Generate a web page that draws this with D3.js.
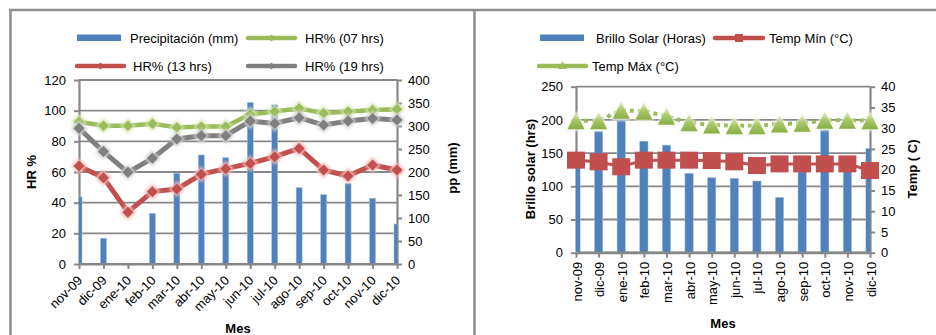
<!DOCTYPE html>
<html>
<head>
<meta charset="utf-8">
<script src="https://cdn.jsdelivr.net/npm/d3@7"></script>
<style>
  html, body { margin: 0; padding: 0; background: #fff; }
  svg { display: block; font-family: "Liberation Sans", Arial, sans-serif; }
</style>
</head>
<body>
<svg id="chart" width="936" height="335"></svg>
<script>
// Months shared by both panels
const months = ["nov-09","dic-09","ene-10","feb-10","mar-10","abr-10","may-10","jun-10","jul-10","ago-10","sep-10","oct-10","nov-10","dic-10"];

// Left panel: precipitation (mm, right axis) and relative humidity (%, left axis)
const precipitacion = [146, 56, 0, 110, 197, 237, 231, 351, 346, 166, 151, 175, 143, 87];
const hr07 = [92.8, 90.2, 90.2, 91.5, 89.1, 89.6, 89.6, 97.6, 99.4, 101.5, 98.3, 99.4, 100.4, 101];
const hr13 = [63.9, 56.3, 33.8, 47.2, 48.9, 58.5, 62.2, 65.6, 70.0, 75.4, 61.3, 57.4, 64.6, 61.3];
const hr19 = [88.5, 73.3, 59.8, 68.9, 81.5, 83.7, 83.7, 93.2, 91.7, 95.4, 90.6, 93.2, 94.9, 93.9];
const hrTicks = [0, 20, 40, 60, 80, 100, 120];
const ppTicks = [0, 50, 100, 150, 200, 250, 300, 350, 400];

// Right panel: sunshine hours (left axis) and temperatures (°C, right axis)
const brillo = [138, 183, 200, 168, 162, 119.5, 113, 112, 108, 83.4, 135, 185, 140, 157];
const tempMin = [22.3, 21.9, 20.7, 22.3, 22.3, 22.3, 22.2, 21.9, 21.0, 21.4, 21.4, 21.4, 21.4, 19.8];
const tempMax = [31.8, 31.8, 34.3, 34.1, 32.9, 31.3, 30.8, 30.6, 30.6, 31.0, 31.2, 31.9, 31.9, 31.8];
const brilloTicks = [0, 50, 100, 150, 200, 250];
const tempTicks = [0, 5, 10, 15, 20, 25, 30, 35, 40];

const C = {
  blue: "#4f81bd", green: "#9bbb59", red: "#c0504d", gray: "#7f7f7f",
  axis: "#878787", text: "#000"
};
const FONT = 13;

const svg = d3.select("#chart");
const defs = svg.append("defs");

// soft glow used on the markers
const fGlow = defs.append("filter").attr("id", "glow")
  .attr("x", "-50%").attr("y", "-50%").attr("width", "200%").attr("height", "200%");
fGlow.append("feGaussianBlur").attr("stdDeviation", 1.6);
const fSoft = defs.append("filter").attr("id", "soft")
  .attr("x", "-30%").attr("y", "-30%").attr("width", "160%").attr("height", "160%");
fSoft.append("feGaussianBlur").attr("stdDeviation", 0.6);

// gradient for the triangle markers
const tg = defs.append("linearGradient").attr("id", "triGrad")
  .attr("x1", 0).attr("y1", 0).attr("x2", 0).attr("y2", 1);
tg.append("stop").attr("offset", "0%").attr("stop-color", "#e9f3cf");
tg.append("stop").attr("offset", "45%").attr("stop-color", "#a9c86a");
tg.append("stop").attr("offset", "100%").attr("stop-color", "#8aae46");

const diamond = r => `M0,${-r}L${r},0L0,${r}L${-r},0Z`;
const triangle = (w, h) => `M0,${-h / 2}L${w / 2},${h / 2}L${-w / 2},${h / 2}Z`;

// ---------- outer frame ----------
const frame = svg.append("g").attr("stroke", "#8e8e8e").attr("stroke-width", 2.5).attr("fill", "none");
frame.append("line").attr("x1", 9).attr("x2", 936).attr("y1", 10).attr("y2", 10);
frame.append("line").attr("x1", 10.5).attr("x2", 10.5).attr("y1", 10).attr("y2", 335);
frame.append("line").attr("x1", 474.5).attr("x2", 474.5).attr("y1", 10).attr("y2", 335);

// ---------- helpers ----------
function drawAxes(g, x, yL, yR, ticksL, ticksR, plot) {
  // gridlines
  g.append("g").selectAll("line").data(ticksL).join("line")
    .attr("x1", plot.x0).attr("x2", plot.x1)
    .attr("y1", d => yL(d)).attr("y2", d => yL(d))
    .attr("stroke", C.axis).attr("stroke-width", 1.8);

  const style = sel => {
    sel.select(".domain").attr("stroke", C.axis).attr("stroke-width", 2.2);
    sel.selectAll(".tick line").attr("stroke", C.axis).attr("stroke-width", 2);
    sel.selectAll(".tick text").attr("font-size", FONT).attr("fill", C.text)
      .attr("font-family", "'Liberation Sans', Arial, sans-serif");
  };
  const aL = d3.axisLeft(yL).tickValues(ticksL).tickSize(5).tickSizeOuter(0).tickPadding(8);
  g.append("g").attr("transform", `translate(${plot.x0},0)`).call(aL).call(style);
  const aR = d3.axisRight(yR).tickValues(ticksR).tickSize(5).tickSizeOuter(0).tickPadding(6);
  g.append("g").attr("transform", `translate(${plot.x1},0)`).call(aR).call(style);
  const aX = d3.axisBottom(x).tickSize(5).tickSizeOuter(0).tickFormat("");
  g.append("g").attr("transform", `translate(0,${plot.y1})`).call(aX).call(style);
}

function clipRect(id, plot) {
  defs.append("clipPath").attr("id", id).append("rect")
    .attr("x", plot.x0).attr("y", plot.y0 - 30)
    .attr("width", plot.x1 - plot.x0).attr("height", plot.y1 - plot.y0 + 30);
}

// ---------- LEFT PANEL ----------
{
  const plot = { x0: 79, x1: 397, y0: 80, y1: 264 };
  const x = d3.scalePoint().domain(months).range([plot.x0, plot.x1]);
  const y = d3.scaleLinear().domain([0, 120]).range([plot.y1, plot.y0]);
  const yPP = d3.scaleLinear().domain([0, 400]).range([plot.y1, plot.y0]);
  const g = svg.append("g");

  drawAxes(g, x, y, yPP, hrTicks, ppTicks, plot);
  clipRect("clipL", plot);

  // precipitation bars
  const bw = 6;
  g.append("g").attr("clip-path", "url(#clipL)").selectAll("rect")
    .data(precipitacion.map((v, i) => ({ m: months[i], v })))
    .join("rect")
    .attr("x", d => x(d.m) - bw / 2).attr("width", bw)
    .attr("y", d => yPP(d.v)).attr("height", d => plot.y1 - yPP(d.v))
    .attr("fill", C.blue).attr("stroke", "#a7c0de").attr("stroke-width", 0.5);

  // redraw the x axis line over the bars
  g.append("line").attr("x1", plot.x0).attr("x2", plot.x1)
    .attr("y1", plot.y1).attr("y2", plot.y1)
    .attr("stroke", C.axis).attr("stroke-width", 2.2);

  const series = [
    { vals: hr07, color: C.green, halo: "#d4e6b3", w: 4.5, r: 5.2 },
    { vals: hr13, color: C.red, halo: "#f4b9b7", w: 5, r: 5.5 },
    { vals: hr19, color: C.gray, halo: "#cfcfcf", w: 5, r: 5.5 }
  ];
  const line = d3.line().x((d, i) => x(months[i])).y(d => y(d));
  series.forEach(s => {
    const sg = g.append("g");
    sg.append("path").attr("d", line(s.vals)).attr("fill", "none")
      .attr("stroke", s.color).attr("stroke-width", s.w).attr("stroke-linejoin", "round");
    const pts = sg.selectAll("g.m").data(s.vals).join("g").attr("class", "m")
      .attr("transform", (d, i) => `translate(${x(months[i])},${y(d)})`);
    pts.append("path").attr("d", diamond(s.r + 2.5)).attr("fill", s.halo).attr("filter", "url(#glow)");
    pts.append("path").attr("d", diamond(s.r)).attr("fill", s.color).attr("filter", "url(#soft)");
  });

  // x labels at -45°
  g.append("g").selectAll("text").data(months).join("text")
    .attr("transform", d => `translate(${x(d) + 1},${plot.y1 + 14}) rotate(-45)`)
    .attr("text-anchor", "end").attr("dy", "0.35em")
    .attr("font-size", FONT).text(d => d);

  // axis titles
  g.append("text").attr("transform", `translate(36,172) rotate(-90)`)
    .attr("text-anchor", "middle").attr("font-weight", "bold").attr("font-size", FONT).text("HR %");
  g.append("text").attr("transform", `translate(457,168) rotate(-90)`)
    .attr("text-anchor", "middle").attr("font-weight", "bold").attr("font-size", FONT).text("pp (mm)");
  g.append("text").attr("x", 238).attr("y", 332.5)
    .attr("text-anchor", "middle").attr("font-weight", "bold").attr("font-size", FONT).text("Mes");

  // legend
  const lg = g.append("g").attr("font-size", FONT);
  lg.append("rect").attr("x", 77).attr("y", 34.5).attr("width", 44).attr("height", 6.5).attr("fill", C.blue);
  lg.append("text").attr("x", 130).attr("y", 42.5).text("Precipitación (mm)");
  const legLine = (x0, yy, color, label, tx) => {
    lg.append("line").attr("x1", x0).attr("x2", x0 + 47).attr("y1", yy).attr("y2", yy)
      .attr("stroke", color).attr("stroke-width", 4.5).attr("stroke-linecap", "round");
    lg.append("path").attr("d", diamond(3.5)).attr("transform", `translate(${x0 + 23.5},${yy})`).attr("fill", color);
    lg.append("text").attr("x", tx).attr("y", yy + 4.5).text(label);
  };
  legLine(248, 38, C.green, "HR% (07 hrs)", 305);
  legLine(77, 66, C.red, "HR% (13 hrs)", 133);
  legLine(248, 66, C.gray, "HR% (19 hrs)", 305);
}

// ---------- RIGHT PANEL ----------
{
  const plot = { x0: 576, x1: 870, y0: 86.7, y1: 252.7 };
  const x = d3.scalePoint().domain(months).range([plot.x0, plot.x1]);
  const y = d3.scaleLinear().domain([0, 250]).range([plot.y1, plot.y0]);
  const yT = d3.scaleLinear().domain([0, 40]).range([plot.y1, plot.y0]);
  const g = svg.append("g");

  drawAxes(g, x, y, yT, brilloTicks, tempTicks, plot);
  clipRect("clipR", plot);

  // sunshine bars
  const bw = 8.3;
  g.append("g").attr("clip-path", "url(#clipR)").selectAll("rect")
    .data(brillo.map((v, i) => ({ m: months[i], v })))
    .join("rect")
    .attr("x", d => x(d.m) - bw / 2).attr("width", bw)
    .attr("y", d => y(d.v)).attr("height", d => plot.y1 - y(d.v))
    .attr("fill", C.blue).attr("stroke", "#a7c0de").attr("stroke-width", 0.5);

  g.append("line").attr("x1", plot.x0).attr("x2", plot.x1)
    .attr("y1", plot.y1).attr("y2", plot.y1)
    .attr("stroke", C.axis).attr("stroke-width", 2.2);

  const line = d3.line().x((d, i) => x(months[i])).y(d => yT(d));

  // Temp Mín: red squares
  const rg = g.append("g");
  rg.append("path").attr("d", line(tempMin)).attr("fill", "none")
    .attr("stroke", C.red).attr("stroke-width", 3);
  rg.selectAll("rect").data(tempMin).join("rect")
    .attr("x", (d, i) => x(months[i]) - 9).attr("y", d => yT(d) - 8.5)
    .attr("width", 18).attr("height", 17).attr("fill", C.red).attr("filter", "url(#soft)");

  // Temp Máx: dotted green line with triangles
  const gg = g.append("g");
  gg.append("path").attr("d", line(tempMax)).attr("fill", "none")
    .attr("stroke", C.green).attr("stroke-width", 4).attr("stroke-dasharray", "4,4");
  const tri = gg.selectAll("g.t").data(tempMax).join("g").attr("class", "t")
    .attr("transform", (d, i) => `translate(${x(months[i])},${yT(d)})`);
  tri.append("path").attr("d", triangle(21, 20)).attr("fill", "#f2f7e6").attr("filter", "url(#glow)");
  tri.append("path").attr("d", triangle(17, 17)).attr("fill", "url(#triGrad)").attr("filter", "url(#soft)");

  // x labels, vertical
  g.append("g").selectAll("text").data(months).join("text")
    .attr("transform", d => `translate(${x(d) + 1},${plot.y1 + 9}) rotate(-90)`)
    .attr("text-anchor", "end").attr("dy", "0.35em")
    .attr("font-size", FONT).text(d => d);

  // axis titles
  g.append("text").attr("transform", `translate(535,169) rotate(-90)`)
    .attr("text-anchor", "middle").attr("font-weight", "bold").attr("font-size", FONT).text("Brillo solar (hrs)");
  g.append("text").attr("transform", `translate(917,169) rotate(-90)`)
    .attr("text-anchor", "middle").attr("font-weight", "bold").attr("font-size", FONT).text("Temp ( C)");
  g.append("text").attr("x", 723).attr("y", 327.5)
    .attr("text-anchor", "middle").attr("font-weight", "bold").attr("font-size", FONT).text("Mes");

  // legend
  const lg = g.append("g").attr("font-size", FONT);
  lg.append("rect").attr("x", 540).attr("y", 34.5).attr("width", 44).attr("height", 6.5).attr("fill", C.blue);
  lg.append("text").attr("x", 596).attr("y", 42.5).text("Brillo Solar (Horas)");
  lg.append("line").attr("x1", 715).attr("x2", 763).attr("y1", 38).attr("y2", 38)
    .attr("stroke", C.red).attr("stroke-width", 4.5).attr("stroke-linecap", "round");
  lg.append("rect").attr("x", 735).attr("y", 34).attr("width", 8).attr("height", 8).attr("fill", C.red);
  lg.append("text").attr("x", 769).attr("y", 42.5).text("Temp Mín (°C)");
  lg.append("line").attr("x1", 539).attr("x2", 586).attr("y1", 66).attr("y2", 66)
    .attr("stroke", C.green).attr("stroke-width", 4.5).attr("stroke-linecap", "round");
  lg.append("path").attr("d", triangle(8, 8)).attr("transform", "translate(562.5,65)").attr("fill", C.green);
  lg.append("text").attr("x", 592).attr("y", 70.5).text("Temp Máx (°C)");
}
</script>
</body>
</html>
